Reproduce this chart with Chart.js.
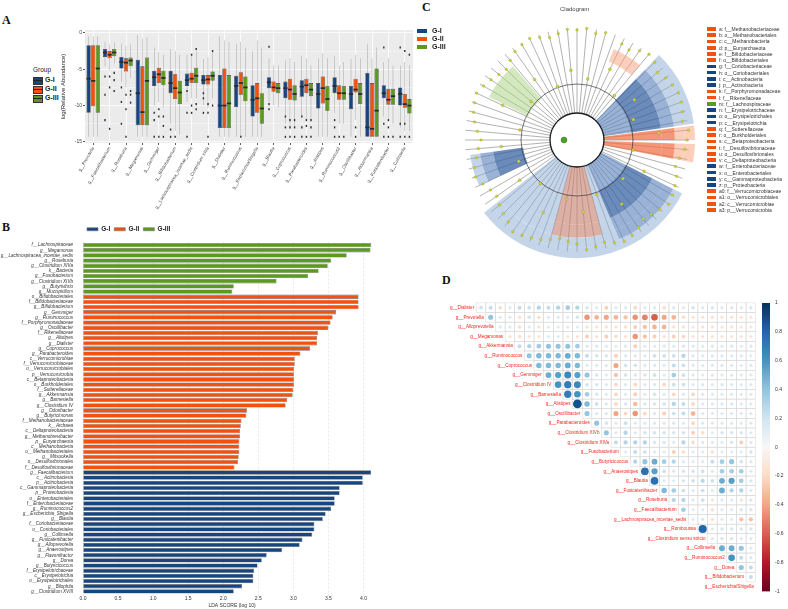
<!DOCTYPE html>
<html>
<head>
<meta charset="utf-8">
<script src="https://cdn.jsdelivr.net/npm/chart.js@4.4.1/dist/chart.umd.min.js"></script>
<style>
  body { margin: 0; background: #fff; font-family: "Liberation Sans", Arial, sans-serif; }
  #page { position: relative; width: 788px; height: 609px; overflow: hidden; background: #fff; }
  .wrap { position: absolute; }
  .letter { position: absolute; font-family: "Liberation Serif", "DejaVu Serif", serif; font-weight: bold; font-size: 12px; line-height: 12px; color: #111; }
  .txt { position: absolute; white-space: nowrap; }
</style>
</head>
<body>
<div id="page">
  <div class="letter" style="left:2px;top:14px">A</div>
  <div class="letter" style="left:2px;top:221px">B</div>
  <div class="letter" style="left:422px;top:1px">C</div>
  <div class="letter" style="left:442px;top:274px">D</div>

  <div class="wrap" style="left:60px;top:25px;width:356px;height:190px"><canvas id="boxA"></canvas></div>
  <div class="wrap" style="left:0px;top:220px;width:390px;height:389px"><canvas id="lda"></canvas></div>
  <div class="wrap" style="left:460px;top:23px;width:234px;height:234px"><canvas id="cladoSpokes"></canvas></div>
  <div class="wrap" style="left:442px;top:5px;width:270px;height:270px"><canvas id="cladoShade"></canvas></div>
  <div class="wrap" style="left:460px;top:23px;width:234px;height:234px"><canvas id="cladoNodes"></canvas></div>
  <div class="wrap" style="left:395px;top:295px;width:370px;height:305px"><canvas id="corr"></canvas></div>
  <div class="wrap" style="left:755px;top:295px;width:33px;height:305px"><canvas id="corrBar"></canvas></div>
  <div id="legends"></div>
</div>
<script>
// ---------- data: panel A (boxplots, log relative abundance) ----------
const boxGenera = ["g__Prevotella", "g__Faecalibacterium", "g__Roseburia", "g__Megamonas", "g__Gemmiger",
  "g__Bifidobacterium", "g__Lachnospiracea_incertae_sedis", "g__Clostridium XIVa", "g__Dialister",
  "g__Ruminococcus", "g__Escherichia/Shigella", "g__Blautia", "g__Coprococcus", "g__Parabacteroides",
  "g__Alistipes", "g__Ruminococcus2", "g__Oscillibacter", "g__Akkermansia", "g__Fusicatenibacter", "g__Collinsella"];

const q1GI  = [-11.0, -3.3, -4.9, -12.7, -7.3, -8.3, -7.3, -7.1, -13.1, -10.2, -11.5, -7.6, -9.0, -8.8, -10.4, -8.3, -10.5, -14.3, -9.0, -10.0];
const medGI = [-6.3, -2.7, -4.0, -8.3, -6.1, -6.9, -6.5, -6.5, -10.0, -7.3, -9.2, -6.8, -7.6, -7.4, -8.4, -7.3, -8.4, -13.0, -8.3, -8.4];
const q3GI  = [-1.7, -2.2, -3.3, -3.7, -5.2, -5.2, -5.6, -5.8, -5.8, -5.9, -7.2, -6.1, -6.7, -6.5, -6.9, -6.1, -7.3, -5.5, -7.2, -7.5];
const minGI = [-14.3, -4.6, -6.8, -14.3, -10.0, -12.5, -9.5, -10.0, -14.3, -14.3, -14.3, -9.5, -12.5, -11.5, -14.3, -11.0, -14.3, -14.3, -11.5, -13.0];
const maxGI = [-0.5, -1.2, -1.5, -0.3, -2.0, -2.2, -3.0, -3.6, -0.5, -1.5, -2.5, -3.5, -3.8, -3.2, -3.5, -3.2, -3.6, -1.5, -4.0, -4.5];

const q1GII  = [-10.1, -3.5, -5.3, -12.7, -6.9, -9.1, -6.9, -7.1, -13.1, -8.5, -11.0, -8.1, -9.2, -8.3, -9.7, -9.2, -8.2, -14.3, -9.9, -10.3];
const medGII = [-6.6, -3.0, -4.1, -10.9, -5.7, -7.6, -6.3, -6.4, -10.0, -6.9, -9.0, -7.5, -7.8, -7.2, -7.6, -8.3, -7.8, -13.2, -9.2, -9.8];
const q3GII  = [-1.7, -2.5, -3.5, -4.6, -4.8, -5.7, -5.5, -5.8, -4.9, -5.4, -6.9, -6.7, -6.3, -6.3, -6.0, -7.2, -6.3, -6.9, -7.7, -8.4];
const minGII = [-14.3, -5.2, -7.5, -14.3, -9.5, -13.5, -9.0, -10.3, -14.3, -14.3, -14.3, -10.0, -13.0, -12.0, -14.3, -12.5, -12.0, -14.3, -12.0, -13.5];
const maxGII = [-0.5, -1.6, -1.8, -0.8, -2.6, -2.5, -3.0, -3.3, -1.0, -1.2, -1.0, -4.5, -3.5, -3.5, -2.8, -4.5, -3.0, -3.5, -3.5, -4.0];

const q1GIII  = [-11.0, -3.2, -4.6, -12.7, -7.2, -9.8, -6.9, -6.6, -13.1, -9.4, -12.5, -8.3, -9.3, -8.7, -10.7, -9.2, -9.8, -14.3, -9.9, -11.1];
const medGIII = [-4.9, -2.7, -3.8, -6.6, -6.2, -8.2, -5.9, -5.9, -9.7, -7.5, -10.4, -7.6, -8.4, -7.8, -9.1, -8.3, -8.4, -10.7, -8.7, -10.0];
const q3GIII  = [-1.7, -2.2, -3.4, -3.4, -5.2, -6.6, -4.8, -5.3, -5.8, -6.0, -8.3, -6.9, -7.2, -6.9, -7.3, -7.3, -6.9, -4.9, -7.7, -9.1];
const minGIII = [-14.3, -4.2, -6.2, -14.3, -10.2, -14.0, -9.0, -9.0, -14.3, -14.3, -14.3, -10.2, -13.0, -12.0, -14.3, -12.5, -14.3, -14.3, -12.5, -13.5];
const maxGIII = [-0.5, -1.3, -1.6, -0.6, -3.0, -3.0, -2.5, -2.7, -1.2, -2.0, -2.0, -4.5, -4.0, -4.5, -3.5, -4.0, -3.5, -2.0, -4.5, -4.5];

// outlier dots (a few per box)
const outLowGI  = [null, -12.0, -12.5, null, -14.3, -14.3, -14.3, -11.0, null, null, null, -10.5, -14.3, -14.3, null, -14.3, null, null, -14.3, -14.3];
const outMidGI  = [null, -8.5, -9.5, null, -12.0, -13.3, -11.0, -9.0, null, null, null, -9.8, -13.0, -13.0, null, -13.0, null, null, -12.5, -12.5];
const outNearGI = [null, -6.0, -7.5, null, -11.0, null, -8.0, -8.3, null, null, null, -1.9, -11.5, -11.5, null, -12.0, null, null, -2.0, -2.0];
const outLowGII  = [null, -13.2, -14.3, null, -14.3, -14.3, -11.0, -14.3, null, -14.3, null, null, -14.3, -14.3, null, -14.3, -14.3, null, -14.3, -14.3];
const outMidGII  = [null, -7.5, -10.5, null, -11.5, null, -10.0, -11.0, null, null, null, null, -13.0, -12.8, null, null, -13.0, null, -13.0, -12.5];
const outNearGII = [null, -6.0, -8.5, null, -10.5, null, -3.0, -9.8, null, null, null, null, -12.0, -12.0, null, null, null, null, -12.0, -2.5];
const outLowGIII  = [null, -8.0, -9.6, null, -14.3, null, -10.5, -10.0, null, null, null, null, -14.3, -14.3, null, -14.3, null, null, -14.3, -14.3];
const outMidGIII  = [null, -6.5, -8.5, null, -12.8, null, -9.8, null, null, null, null, null, -13.0, -13.0, null, null, null, null, null, null];
const outNearGIII = [null, -5.5, -8.0, null, -11.5, null, -2.2, -2.5, null, null, null, null, -12.0, -12.0, null, null, null, null, null, -3.0];

// ---------- data: panel B (LDA scores) ----------
const taxaGIII = ["f__Lachnospiraceae", "g__Megamonas", "g__Lachnospiracea_incertae_sedis", "g__Roseburia",
  "g__Clostridium XIVa", "k__Bacteria", "g__Fusobacterium", "g__Clostridium XIVb", "g__Butyrivibrio", "g__Mucispirillum"];
const scoreGIII = [4.11, 4.10, 3.76, 3.54, 3.49, 3.36, 3.21, 2.76, 2.15, 2.13];
const taxaGII = ["o__Bifidobacteriales", "f__Bifidobacteriaceae", "g__Bifidobacterium", "g__Gemmiger", "g__Ruminococcus",
  "f__Porphyromonadaceae", "g__Oscillibacter", "f__Rikenellaceae", "g__Alistipes", "g__Dialister", "g__Coprococcus",
  "g__Parabacteroides", "c__Verrucomicrobiae", "f__Verrucomicrobiaceae", "o__Verrucomicrobiales", "p__Verrucomicrobia",
  "c__Betaproteobacteria", "o__Burkholderiales", "f__Sutterellaceae", "g__Akkermansia", "g__Barnesiella",
  "g__Clostridium IV", "g__Odoribacter", "g__Butyricimonas", "f__Methanobacteriaceae", "k__Archaea",
  "c__Deltaproteobacteria", "g__Methanobrevibacter", "p__Euryarchaeota", "c__Methanobacteria",
  "o__Methanobacteriales", "g__Mitsuokella", "o__Desulfovibrionales", "f__Desulfovibrionaceae"];
const scoreGII = [3.93, 3.93, 3.93, 3.61, 3.56, 3.53, 3.50, 3.35, 3.34, 3.34, 3.24, 3.10, 3.02, 3.02, 3.01, 3.01,
  3.01, 3.01, 3.00, 2.99, 2.91, 2.89, 2.34, 2.33, 2.26, 2.25, 2.24, 2.24, 2.23, 2.23, 2.23, 2.22, 2.21, 2.16];
const taxaGI = ["g__Faecalibacterium", "c__Actinobacteria", "p__Actinobacteria", "c__Gammaproteobacteria",
  "p__Proteobacteria", "o__Enterobacteriales", "f__Enterobacteriaceae", "g__Ruminococcus2", "g__Escherichia_Shigella",
  "g__Blautia", "f__Coriobacteriaceae", "o__Coriobacteriales", "g__Collinsella", "g__Fusicatenibacter",
  "g__Alloprevotella", "g__Anaerostipes", "g__Flavonifractor", "g__Dorea", "g__Butyricicoccus",
  "f__Erysipelotrichaceae", "c__Erysipelotrichia", "o__Erysipelotrichales", "g__Bilophila", "g__Clostridium XVIII"];
const scoreGI = [4.11, 3.99, 3.99, 3.66, 3.66, 3.59, 3.59, 3.54, 3.46, 3.42, 3.30, 3.30, 3.27, 3.13, 3.09, 2.84,
  2.62, 2.55, 2.49, 2.44, 2.43, 2.43, 2.27, 2.15];
const ldaTicks = [0, 0.5, 1, 1.5, 2, 2.5, 3, 3.5, 4];

// ---------- data: panel C (cladogram) ----------
const cladoKeys = ["a", "b", "c", "d", "e", "f", "g", "h", "i", "j", "k", "l", "m", "n", "o", "p", "q", "r", "s", "t",
  "u", "v", "w", "x", "y", "z", "a0", "a1", "a2", "a3"];
const cladoTaxa = ["f__Methanobacteriaceae", "o__Methanobacteriales", "c__Methanobacteria", "p__Euryarchaeota",
  "f__Bifidobacteriaceae", "o__Bifidobacteriales", "f__Coriobacteriaceae", "o__Coriobacteriales", "c__Actinobacteria",
  "p__Actinobacteria", "f__Porphyromonadaceae", "f__Rikenellaceae", "f__Lachnospiraceae", "f__Erysipelotrichaceae",
  "o__Erysipelotrichales", "c__Erysipelotrichia", "f__Sutterellaceae", "o__Burkholderiales", "c__Betaproteobacteria",
  "f__Desulfovibrionaceae", "o__Desulfovibrionales", "c__Deltaproteobacteria", "f__Enterobacteriaceae",
  "o__Enterobacteriales", "c__Gammaproteobacteria", "p__Proteobacteria", "f__Verrucomicrobiaceae",
  "o__Verrucomicrobiales", "c__Verrucomicrobiae", "p__Verrucomicrobia"];
const cladoGroup = [1, 1, 1, 1, 1, 1, 0, 0, 0, 0, 1, 1, 2, 0, 0, 0, 1, 1, 1, 1, 1, 1, 0, 0, 0, 0, 1, 1, 1, 1];

// shaded clade sectors, degrees clockwise from 12 o'clock, outer band first
const bandA = [44, 38, 1, 7, 2, 9, 16, 40, 75, 128];
const bandB = [44, 38, 1, 7, 2, 9, 16, 40, 75, 13, 17, 98];
const bandC = [22, 18, 4, 38, 1, 7, 2, 9, 16, 40, 8, 30, 37, 13, 17, 34, 23, 41];
const bandD = [44, 38, 1, 7, 2, 9, 16, 40, 8, 30, 37, 13, 17, 34, 23, 41];
const bandE = [44, 38, 1, 7, 2, 9, 16, 40, 8, 30, 37, 13, 17, 34, 23, 41];
// tree nodes (radius in px per leaf slot)
const leafR = [110, 112, 108, 111, null, 106, 104, 109, 112, 110, 105, 108,
  110, 112, 111, 109, 107, 112, 110, 108, 104, 102, 106, 108,
  110, 112, 108, 105, 103, 107, 110, 112, 109, 106, 108, 110,
  104, 102, 100, 103, 106, 108, 110, 112, 107, 104, 101, 98,
  100, 104, 108, 106, 102, 99, 96, 100, 104, 107, 109, 111,
  108, 105, 102, 100, 104, 108, 110, 112, 109, 106, 108, 111];
const midR = [null, null, 62, null, null, 78, null, null, 58, null, null, 70,
  null, null, 60, null, null, 82, null, null, 57, null, null, 74,
  null, null, 60, null, null, 78, null, null, 58, null, null, 72,
  null, null, 60, null, null, 80, null, null, 57, null, null, 70,
  null, null, 62, null, null, 76, null, null, 58, null, null, 82,
  null, null, 60, null, null, 74, null, null, 57, null, null, 70];

// ---------- data: panel D (correlations, upper triangle) ----------
const corrNames = ["g__Dialister", "g__Prevotella", "g__Alloprevotella", "g__Megamonas", "g__Akkermansia",
  "g__Ruminococcus", "g__Coprococcus", "g__Gemmiger", "g__Clostridium IV", "g__Barnesiella", "g__Alistipes",
  "g__Oscillibacter", "g__Parabacteroides", "g__Clostridium XIVb", "g__Clostridium XIVa", "g__Fusobacterium",
  "g__Butyricicoccus", "g__Anaerostipes", "g__Blautia", "g__Fusicatenibacter", "g__Roseburia",
  "g__Faecalibacterium", "g__Lachnospiracea_incertae_sedis", "g__Romboutsia", "g__Clostridium sensu stricto",
  "g__Collinsella", "g__Ruminococcus2", "g__Dorea", "g__Bifidobacterium", "g__Escherichia/Shigella"];
const corrRows = [
  [0.12, 0.15, -0.1, 0.05, 0.15, 0.12, 0.2, 0.15, 0.2, 0.25, 0.2, 0.08, 0.05, -0.15, 0.05, 0.05, -0.12, 0.05, 0.06, -0.1, 0.05, 0.05, 0.1, 0.05, 0.08, 0.05, 0.06, 0.05, 0.08],
  [0.3, 0.05, 0.05, -0.08, 0.1, -0.08, 0.04, 0.04, 0.04, 0.1, -0.35, -0.25, -0.3, -0.25, -0.2, -0.35, -0.4, -0.5, -0.3, -0.25, -0.1, -0.05, -0.05, -0.08, -0.05, -0.06, -0.05, -0.04],
  [0.05, 0.04, -0.08, 0.04, -0.06, 0.03, 0.03, 0.04, 0.03, -0.05, -0.05, -0.06, -0.05, -0.08, -0.15, -0.2, -0.25, -0.25, -0.06, -0.05, -0.04, -0.05, -0.05, -0.04, -0.05, -0.04, -0.04],
  [-0.06, -0.08, -0.05, -0.06, 0.04, 0.04, -0.04, -0.05, -0.15, -0.06, -0.15, -0.1, -0.06, -0.35, -0.2, -0.15, -0.06, -0.15, -0.12, -0.05, -0.05, -0.06, -0.05, -0.04, -0.05, -0.04],
  [0.15, 0.2, 0.25, 0.3, 0.3, 0.3, 0.25, 0.06, 0.05, 0.04, 0.04, 0.05, -0.15, 0.04, 0.04, 0.05, 0.04, 0.05, 0.05, 0.04, 0.05, 0.04, 0.05, 0.04, 0.05],
  [0.3, 0.35, 0.35, 0.35, 0.4, 0.35, 0.15, 0.1, 0.08, -0.15, 0.05, 0.05, 0.05, 0.12, 0.12, 0.12, 0.2, 0.05, 0.05, 0.06, 0.05, 0.05, 0.06, 0.04],
  [0.35, 0.35, 0.35, 0.4, 0.35, 0.05, 0.05, 0.04, -0.3, 0.1, 0.1, 0.05, 0.05, 0.05, 0.15, 0.12, 0.05, 0.04, 0.05, 0.06, 0.05, 0.04, 0.05],
  [0.4, 0.45, 0.55, 0.45, 0.3, 0.1, 0.05, -0.2, 0.1, 0.08, 0.08, 0.12, 0.05, 0.25, 0.12, 0.05, 0.05, 0.06, 0.05, 0.06, 0.05, 0.04],
  [0.5, 0.6, 0.55, 0.1, 0.08, 0.05, -0.12, 0.05, -0.12, 0.05, 0.05, -0.12, 0.12, 0.12, 0.05, 0.05, 0.05, 0.06, 0.05, 0.04, 0.05],
  [0.6, 0.5, 0.25, 0.08, 0.05, -0.12, 0.05, -0.15, 0.05, 0.1, 0.05, -0.12, 0.05, -0.12, 0.05, 0.05, 0.04, 0.05, 0.05, 0.04],
  [0.78, 0.35, 0.12, 0.06, -0.12, 0.08, -0.22, 0.08, 0.08, 0.1, 0.2, 0.15, -0.12, 0.05, 0.05, 0.05, 0.06, 0.05, 0.05],
  [0.3, 0.06, 0.06, -0.3, -0.12, -0.35, -0.12, 0.06, -0.15, 0.12, 0.15, -0.25, 0.05, 0.05, 0.04, 0.05, 0.05, 0.04],
  [0.3, 0.1, 0.04, 0.12, 0.05, 0.05, 0.05, 0.05, 0.05, 0.04, -0.12, 0.04, 0.05, 0.04, 0.05, 0.04, 0.05],
  [0.3, 0.05, 0.2, 0.06, 0.1, 0.1, 0.1, 0.08, 0.1, -0.15, -0.1, 0.04, 0.08, 0.08, 0.08, 0.05],
  [0.15, 0.2, 0.2, 0.2, 0.08, 0.08, 0.04, 0.2, -0.1, 0.04, 0.04, 0.04, 0.08, -0.15, 0.05],
  [0.04, 0.15, 0.12, 0.04, 0.04, -0.15, -0.1, 0.03, 0.03, -0.08, 0.03, 0.03, 0.03, 0.1],
  [0.2, 0.3, 0.4, 0.25, 0.2, 0.05, 0.04, 0.04, 0.15, 0.25, 0.3, 0.1, 0.05],
  [0.65, 0.45, 0.12, 0.06, 0.08, 0.1, 0.12, 0.05, 0.25, 0.25, 0.25, 0.05],
  [0.65, 0.05, 0.05, 0.08, 0.12, 0.18, 0.12, 0.4, 0.45, 0.25, 0.08],
  [0.35, 0.25, 0.12, 0.05, 0.12, 0.05, 0.4, 0.2, 0.2, 0.05],
  [0.2, 0.2, 0.05, 0.12, -0.06, 0.04, 0.04, -0.08, 0.08],
  [0.25, 0.04, 0.04, -0.08, 0.04, 0.04, 0.08, 0.08],
  [0.04, 0.08, -0.08, 0.04, 0.04, -0.2, -0.2],
  [0.7, 0.05, 0.08, 0.08, 0.08, 0.08],
  [0.04, 0.08, 0.08, 0.04, 0.05],
  [0.4, 0.4, 0.3, 0.05],
  [0.5, 0.15, 0.08],
  [0.3, 0.15],
  [0.15]
];
const corrTicks = [-1, -0.8, -0.6, -0.4, -0.2, 0, 0.2, 0.4, 0.6, 0.8, 1];

// ---------- shared ----------
const groupNames = ["G-I", "G-II", "G-III"];
const groupColors = ["#16457f", "#f4510f", "#5c9a1f"];
Chart.defaults.font.family = '"Liberation Sans", Arial, sans-serif';
Chart.defaults.animation = false;
Chart.defaults.plugins.tooltip.enabled = false;
Chart.defaults.plugins.colors = { enabled: false };

// ---------- A: boxplots from floating bars ----------
const range = (lo, hi) => lo.map((v, i) => [v, hi[i]]);
const dots = (arr, h) => arr.map(v => v === null ? null : [v - h, v + h]);
const boxGroups = [
  { q1: q1GI, med: medGI, q3: q3GI, lo: minGI, hi: maxGI, outs: [outLowGI, outMidGI, outNearGI] },
  { q1: q1GII, med: medGII, q3: q3GII, lo: minGII, hi: maxGII, outs: [outLowGII, outMidGII, outNearGII] },
  { q1: q1GIII, med: medGIII, q3: q3GIII, lo: minGIII, hi: maxGIII, outs: [outLowGIII, outMidGIII, outNearGIII] }
];
const boxSets = [];
boxGroups.forEach((s, g) => {
  const stack = "s" + g;
  boxSets.push({ data: range(s.lo, s.hi), backgroundColor: "#8a8a8a", stack, barPercentage: 0.08, categoryPercentage: 0.84, order: 3 });
  boxSets.push({ data: range(s.q1, s.q3), backgroundColor: groupColors[g], borderColor: "#3b3b3b", borderWidth: 0.6,
    borderSkipped: false, stack, barPercentage: 0.92, categoryPercentage: 0.84, order: 2 });
  boxSets.push({ data: dots(s.med, 0.12), backgroundColor: "#2a2a2a", stack, barPercentage: 0.92, categoryPercentage: 0.84, order: 1 });
  s.outs.forEach(o => boxSets.push({ data: dots(o, 0.14), backgroundColor: "#2a2a2a", stack, barPercentage: 0.3, categoryPercentage: 0.84, order: 0 }));
});

const panelBg = {
  id: "panelBg",
  beforeDraw(chart) {
    const a = chart.chartArea, c = chart.ctx;
    c.save(); c.fillStyle = "#ebebeb"; c.fillRect(a.left, a.top, a.right - a.left, a.bottom - a.top); c.restore();
  }
};

new Chart(document.getElementById("boxA"), {
  type: "bar",
  data: { labels: boxGenera, datasets: boxSets },
  options: {
    responsive: true, maintainAspectRatio: false,
    layout: { padding: { top: 5, right: 3 } },
    plugins: { legend: { display: false } },
    scales: {
      x: {
        grid: { color: "#ffffff", lineWidth: 0.8, offset: false, tickColor: "#333", tickLength: 2 },
        border: { display: false },
        ticks: { font: { size: 4.5 }, color: "#444", minRotation: 60, maxRotation: 60, autoSkip: false, padding: 1 },
        afterFit(s) { s.height = 72; }
      },
      y: {
        min: -15.15, max: 0.4, stacked: false,
        afterBuildTicks(s) { s.ticks = [-15, -12.5, -10, -7.5, -5, -2.5, 0].map(v => ({ value: v })); },
        grid: {
          color: "#ffffff",
          lineWidth: c => (c.tick && c.tick.value % 5 === 0) ? 0.8 : 0.35,
          tickColor: c => (c.tick && c.tick.value % 5 === 0) ? "#333" : "rgba(0,0,0,0)",
          tickLength: 2
        },
        border: { display: false },
        ticks: { font: { size: 5 }, color: "#444", padding: 1, callback: v => v % 5 === 0 ? v : "" },
        title: { display: true, text: "log(Relative Abundance)", font: { size: 6 }, color: "#222", padding: 0 },
        afterFit(s) { s.width = 25; }
      }
    }
  },
  plugins: [panelBg]
});

// ---------- B: LDA bar chart ----------
const ldaLabels = [...taxaGIII, ...taxaGII, ...taxaGI];
const place = (offset, vals) => ldaLabels.map((_, i) => (i >= offset && i < offset + vals.length) ? vals[i - offset] : null);
const ldaData = [
  place(taxaGIII.length + taxaGII.length, scoreGI),
  place(taxaGIII.length, scoreGII),
  place(0, scoreGIII)
];
new Chart(document.getElementById("lda"), {
  type: "bar",
  data: {
    labels: ldaLabels,
    datasets: groupNames.map((g, i) => ({
      label: g, data: ldaData[i], backgroundColor: groupColors[i], borderColor: "#6f6f6f", borderWidth: 0.6,
      borderSkipped: false, grouped: false, barPercentage: 0.84, categoryPercentage: 1
    }))
  },
  options: {
    indexAxis: "y",
    responsive: true, maintainAspectRatio: false,
    layout: { padding: { right: 9, top: 2 } },
    plugins: {
      legend: {
        position: "top", align: "start", fullSize: false,
        labels: { boxWidth: 11, boxHeight: 3, font: { size: 6.5, weight: "bold" }, color: "#222", padding: 4 }
      }
    },
    scales: {
      x: {
        min: 0, max: 4.25,
        afterBuildTicks(s) { s.ticks = ldaTicks.map(v => ({ value: v })); },
        grid: { color: "#cfcfcf", lineWidth: 0.5, tickLength: 2 },
        border: { display: false, dash: [2, 2] },
        ticks: { font: { size: 5 }, color: "#333", padding: 0, callback: v => v.toFixed(1) },
        title: { display: true, text: "LDA SCORE (log 10)", font: { size: 5 }, color: "#333", padding: 0 },
        afterFit(s) { s.height = 15; }
      },
      y: {
        grid: { display: false },
        border: { display: false },
        ticks: { font: { size: 4.6, style: "italic" }, color: "#333", autoSkip: false, padding: 2 },
        afterFit(s) { s.width = 83; }
      }
    }
  }
});

// ---------- C: cladogram ----------
const blueL = "rgba(140,172,212,0.5)", blueM = "rgba(90,130,188,0.62)", blueD = "rgba(50,95,160,0.72)";
const redL = "rgba(247,160,120,0.5)", redM = "rgba(240,110,66,0.72)", redB = "rgba(200,128,112,0.62)";
const greenL = "rgba(170,210,130,0.5)", none = "rgba(0,0,0,0)";
const bandStyles = [
  [none, blueL, none, redL, none, redL, none, blueL, blueL, none],
  [none, blueL, none, redL, none, redL, none, blueM, blueL, none, blueL, none],
  [none, redL, none, blueM, none, redM, none, redM, none, blueM, blueL, redB, blueL, none, blueM, none, greenL, none],
  [none, blueD, none, redM, none, redM, none, blueD, blueL, redB, blueL, none, blueD, none, greenL, none],
  [none, blueM, none, redM, none, redM, none, blueM, blueL, redB, blueL, none, none, none, none, none]
];
const bands = [bandA, bandB, bandC, bandD, bandE];
const bandWeights = [10, 10, 13, 30, 28];
const slotLabels = leafR.map(() => "");

new Chart(document.getElementById("cladoSpokes"), {
  type: "radar",
  data: { labels: slotLabels, datasets: [] },
  options: {
    responsive: true, maintainAspectRatio: false, layout: { padding: 5 },
    plugins: { legend: { display: false } },
    scales: { r: { min: 0, max: 112, ticks: { display: false }, grid: { display: false },
      angleLines: { color: "#3c3c3c", lineWidth: 0.4 }, pointLabels: { display: false } } }
  }
});

new Chart(document.getElementById("cladoShade"), {
  type: "doughnut",
  data: {
    labels: bandC.map(() => ""),
    datasets: [
      ...bands.map((b, i) => ({ data: b, backgroundColor: bandStyles[i], borderWidth: 0, weight: bandWeights[i] })),
      { data: [360], backgroundColor: ["#ffffff"], borderWidth: 0, weight: 26 }
    ]
  },
  options: {
    responsive: true, maintainAspectRatio: false, cutout: 0, layout: { padding: 17 },
    plugins: { legend: { display: false } }
  }
});

const rootDot = leafR.map((_, i) => i === 54 ? 13 : null);
const nodeStyle = { showLine: false, fill: false, borderWidth: 0, borderColor: "rgba(0,0,0,0)", backgroundColor: "rgba(0,0,0,0)" };
new Chart(document.getElementById("cladoNodes"), {
  type: "radar",
  data: {
    labels: slotLabels,
    datasets: [
      { ...nodeStyle, data: leafR, pointRadius: 1.3, pointBackgroundColor: "#cfd23c", pointBorderColor: "#8c8f1e", pointBorderWidth: 0.3 },
      { ...nodeStyle, data: midR, pointRadius: 1.5, pointBackgroundColor: "#cfd23c", pointBorderColor: "#8c8f1e", pointBorderWidth: 0.3 },
      { ...nodeStyle, data: rootDot, pointRadius: 3, pointBackgroundColor: "#4f9d2a", pointBorderColor: "#2d6a14", pointBorderWidth: 0.4 }
    ]
  },
  options: {
    responsive: true, maintainAspectRatio: false, layout: { padding: 5 },
    plugins: { legend: { display: false } },
    scales: { r: {
      min: 0, max: 112,
      afterBuildTicks(s) { s.ticks = [0, 27, 56].map(v => ({ value: v })); },
      ticks: { display: false },
      grid: { circular: true, color: c => c.tick && c.tick.value === 27 ? "#1e1e1e" : "#3a3a3a",
        lineWidth: c => c.tick && c.tick.value === 27 ? 1.3 : 0.7 },
      angleLines: { display: false }, pointLabels: { display: false }
    } }
  }
});

// ---------- D: correlation bubbles ----------
const rdbuStops = [[-1, [103, 0, 31]], [-0.8, [178, 24, 43]], [-0.6, [214, 96, 77]], [-0.4, [244, 165, 130]],
  [-0.2, [253, 219, 199]], [0, [247, 247, 247]], [0.2, [209, 229, 240]], [0.4, [146, 197, 222]],
  [0.6, [67, 147, 195]], [0.8, [33, 102, 172]], [1, [5, 48, 97]]];
function rdbu(v) {
  v = Math.max(-1, Math.min(1, v));
  for (let i = 0; i < rdbuStops.length - 1; i++) {
    const [a, ca] = rdbuStops[i], [b, cb] = rdbuStops[i + 1];
    if (v <= b) {
      const t = (v - a) / (b - a);
      return "rgb(" + ca.map((c, k) => Math.round(c + (cb[k] - c) * t)).join(",") + ")";
    }
  }
  return "rgb(5,48,97)";
}
const corrPoints = [];
corrRows.forEach((row, i) => row.forEach((v, k) => corrPoints.push({ x: i + 1 + k, y: i, r: 1.4 + 3.8 * Math.abs(v), v })));

const corrFrame = {
  id: "corrFrame",
  beforeDatasetsDraw(chart) {
    const { x, y } = chart.scales, c = chart.ctx;
    c.save();
    c.strokeStyle = "#d6d6d6"; c.lineWidth = 0.5;
    for (let i = 0; i < corrNames.length - 1; i++) {
      for (let j = i + 1; j < corrNames.length; j++) {
        const x0 = x.getPixelForValue(j - 0.5), x1 = x.getPixelForValue(j + 0.5);
        const y0 = y.getPixelForValue(i - 0.5), y1 = y.getPixelForValue(i + 0.5);
        c.strokeRect(x0, y0, x1 - x0, y1 - y0);
      }
    }
    c.fillStyle = "#f2281e"; c.font = '4.6px "Liberation Sans", Arial, sans-serif';
    c.textAlign = "right"; c.textBaseline = "middle";
    corrNames.forEach((n, i) => c.fillText(n, x.getPixelForValue(i + 0.5) - 2, y.getPixelForValue(i)));
    c.restore();
  }
};

new Chart(document.getElementById("corr"), {
  type: "bubble",
  data: { datasets: [{ data: corrPoints, borderWidth: 0,
    backgroundColor: c => { const v = c.raw ? c.raw.v : 0; return rdbu(v + Math.sign(v) * 0.1); } }] },
  options: {
    responsive: true, maintainAspectRatio: false,
    layout: { padding: { left: 81.2, right: 9.3, top: 7.9, bottom: 8.5 } },
    plugins: { legend: { display: false } },
    scales: {
      x: { type: "linear", min: 0.5, max: 29.5, display: false },
      y: { type: "linear", min: -0.5, max: 29.5, reverse: true, display: false }
    }
  },
  plugins: [corrFrame]
});

new Chart(document.getElementById("corrBar"), {
  type: "bar",
  data: { labels: [""], datasets: [{ data: [[-1, 1]], barPercentage: 1, categoryPercentage: 1,
    backgroundColor: c => {
      const a = c.chart.chartArea;
      if (!a) return "#ccc";
      const g = c.chart.ctx.createLinearGradient(0, a.bottom, 0, a.top);
      rdbuStops.forEach(([v]) => g.addColorStop((v + 1) / 2, rdbu(v)));
      return g;
    } }] },
  options: {
    responsive: true, maintainAspectRatio: false,
    layout: { padding: { left: 7, top: 7.9, bottom: 8.5 } },
    plugins: { legend: { display: false } },
    scales: {
      x: { display: false },
      y: {
        position: "right", min: -1, max: 1,
        afterBuildTicks(s) { s.ticks = corrTicks.map(v => ({ value: v })); },
        grid: { display: false, tickLength: 2 }, border: { display: false },
        ticks: { font: { size: 5 }, color: "#333", padding: 3, callback: v => String(+v.toFixed(1)) },
        afterFit(s) { s.width = 18; }
      }
    }
  }
});

// ---------- text legends ----------
const lg = document.getElementById("legends");
function addTxt(html, style) { const d = document.createElement("div"); d.className = "txt"; d.style.cssText = style; d.innerHTML = html; lg.appendChild(d); }
addTxt("Group", "left:33px;top:66px;font-size:6.5px;color:#222");
groupNames.forEach((g, i) => {
  const top = 77 + i * 9;
  addTxt("", `left:33px;top:${top}px;width:8px;height:6px;background:${groupColors[i]};border:0.6px solid #333;`);
  addTxt("", `left:33px;top:${top + 3}px;width:9px;height:0.8px;background:#222;`);
  addTxt(g, `left:45px;top:${top - 1}px;font-size:7px;font-weight:bold;color:#222`);
  addTxt("", `left:417px;top:${29 + i * 8}px;width:10px;height:4px;background:${groupColors[i]}`);
  addTxt(g, `left:432px;top:${27 + i * 8}px;font-size:7px;font-weight:bold;color:#222;line-height:8px`);
});
addTxt("Cladogram", "left:560px;top:6px;font-size:6px;color:#444");
cladoKeys.forEach((k, i) => {
  const y = 29 + i * 6.24;
  addTxt("", `left:707px;top:${y - 1.8}px;width:9px;height:3.6px;background:${groupColors[cladoGroup[i]]}`);
  addTxt(k + ": " + cladoTaxa[i], `left:719px;top:${y - 3}px;font-size:5px;line-height:6px;color:#333`);
});
</script>
</body>
</html>
